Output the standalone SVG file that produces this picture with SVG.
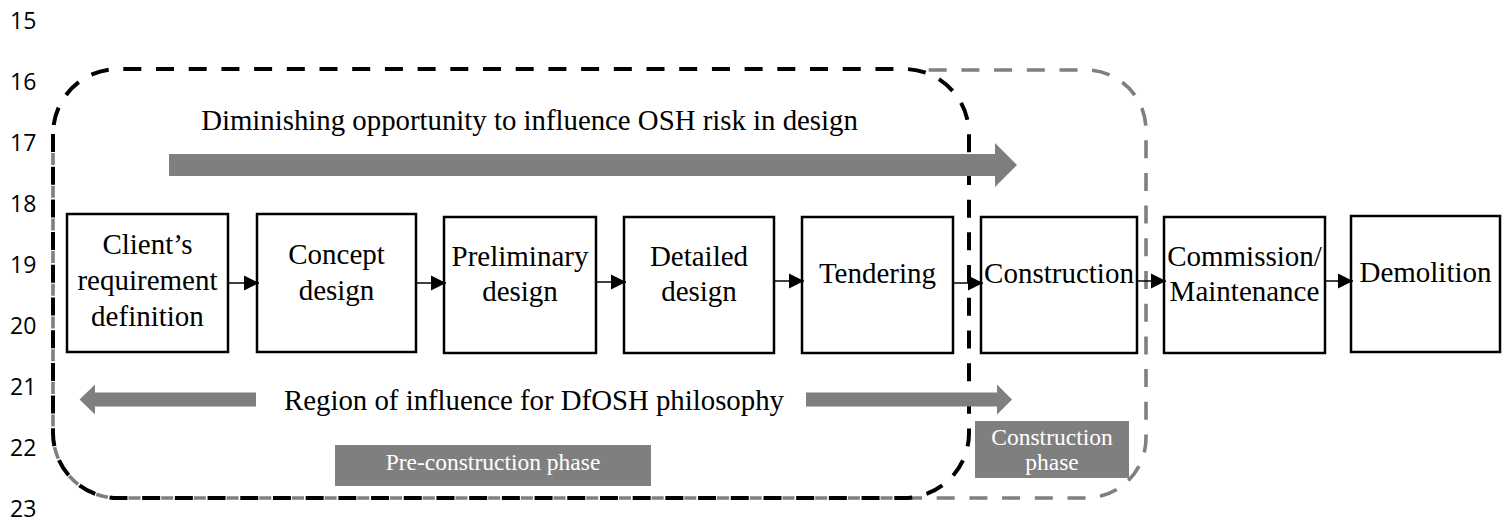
<svg xmlns="http://www.w3.org/2000/svg" width="1502" height="523" viewBox="0 0 1502 523">
  <style>
    .ln { font-family: "Open Sans", "Liberation Sans", sans-serif; font-size: 23px; fill: #000; }
    .box { fill: #fff; stroke: #000; stroke-width: 2.5; }
    .lbl { font-family: 'Liberation Serif', 'DejaVu Serif', serif; font-size: 29px; fill: #000; text-anchor: middle; }
    .big { font-family: 'Liberation Serif', 'DejaVu Serif', serif; font-size: 28.8px; fill: #000; text-anchor: middle; }
    .tag { fill: #7f7f7f; }
    .tagtxt { font-family: 'Liberation Serif', 'DejaVu Serif', serif; font-size: 23.5px; fill: #fff; text-anchor: middle; }
    .flow { stroke: #000; stroke-width: 1.5; fill: none; marker-end: url(#head); }
    .band { fill: #7f7f7f; }
    .blk { fill: none; stroke: #000; stroke-width: 4; stroke-dasharray: 18 14.7; }
    .gry { fill: none; stroke: #7f7f7f; stroke-width: 3.6; stroke-dasharray: 18 14.7; }
    .gryfill { fill: none; stroke: #7f7f7f; stroke-width: 3.6; stroke-dasharray: 12 20.7; stroke-dashoffset: 13.7; }
  </style>
  <defs>
    <marker id="head" markerUnits="userSpaceOnUse" markerWidth="16" markerHeight="16" viewBox="0 0 16 16" refX="15" refY="8" orient="auto">
      <path d="M0,0.5 L15,8 L0,15.5 Z" fill="#000"/>
    </marker>
  </defs>

  <!-- line numbers in the margin -->
  <g id="line-numbers">
    <text class="ln" x="10" y="29">15</text>
    <text class="ln" x="10" y="90">16</text>
    <text class="ln" x="10" y="151">17</text>
    <text class="ln" x="10" y="212">18</text>
    <text class="ln" x="10" y="273">19</text>
    <text class="ln" x="10" y="334">20</text>
    <text class="ln" x="10" y="395">21</text>
    <text class="ln" x="10" y="456">22</text>
    <text class="ln" x="10" y="517">23</text>
  </g>

  <!-- phase labels -->
  <g id="pre-construction-phase">
    <rect class="tag" x="335" y="445" width="316" height="41"/>
    <text class="tagtxt" x="493" y="470">Pre-construction phase</text>
  </g>
  <g id="construction-phase">
    <rect class="tag" x="975" y="421" width="154" height="57"/>
    <text class="tagtxt" x="1052" y="445">Construction</text>
    <text class="tagtxt" x="1052" y="470">phase</text>
  </g>

  <!-- phase boundaries -->
  <g id="boundaries">
    <path id="construction-boundary" class="gry" d="M904,498 H1086 A60,60 0 0 0 1146,438 V130 A60,60 0 0 0 1086,70 H920"/>
    <path id="construction-boundary-shared" class="gryfill" d="M53,134 V433 A65,65 0 0 0 118,498 H904"/>
    <path id="pre-construction-boundary" class="blk" d="M53,134 V433 A65,65 0 0 0 118,498 H904 A65,65 0 0 0 969,433 V134 A65,65 0 0 0 904,69 H118 A65,65 0 0 0 53,134 Z"/>
  </g>

  <!-- process steps -->
  <g id="step-client">
    <rect class="box" x="67" y="214" width="161" height="138"/>
    <text class="lbl" x="147.5" y="254">Client’s</text>
    <text class="lbl" x="147.5" y="290">requirement</text>
    <text class="lbl" x="147.5" y="326">definition</text>
  </g>
  <g id="step-concept">
    <rect class="box" x="257" y="214" width="159" height="138"/>
    <text class="lbl" x="336.5" y="264">Concept</text>
    <text class="lbl" x="336.5" y="300">design</text>
  </g>
  <g id="step-preliminary">
    <rect class="box" x="444" y="217" width="152" height="136"/>
    <text class="lbl" x="520" y="266">Preliminary</text>
    <text class="lbl" x="520" y="301">design</text>
  </g>
  <g id="step-detailed">
    <rect class="box" x="624" y="217" width="150" height="136"/>
    <text class="lbl" x="699" y="266">Detailed</text>
    <text class="lbl" x="699" y="301">design</text>
  </g>
  <g id="step-tendering">
    <rect class="box" x="802" y="217" width="151" height="136"/>
    <text class="lbl" x="877.5" y="283">Tendering</text>
  </g>
  <g id="step-construction">
    <rect class="box" x="981" y="217" width="156" height="136"/>
    <text class="lbl" x="1059" y="283">Construction</text>
  </g>
  <g id="step-commission">
    <rect class="box" x="1164" y="217" width="161" height="136"/>
    <text class="lbl" x="1244.5" y="266">Commission/</text>
    <text class="lbl" x="1244.5" y="301">Maintenance</text>
  </g>
  <g id="step-demolition">
    <rect class="box" x="1351" y="216" width="149" height="136"/>
    <text class="lbl" x="1425.5" y="282">Demolition</text>
  </g>

  <!-- connectors between steps -->
  <g id="connectors">
    <path class="flow" d="M228,283 H259"/>
    <path class="flow" d="M416,283 H446"/>
    <path class="flow" d="M596,282 H626"/>
    <path class="flow" d="M774,281 H804"/>
    <path class="flow" d="M953,283 H983"/>
    <path class="flow" d="M1137,281 H1166"/>
    <path class="flow" d="M1325,281 H1353"/>
  </g>

  <!-- opportunity and influence bands -->
  <g id="opportunity">
    <text class="big" x="529.5" y="130">Diminishing opportunity to influence OSH risk in design</text>
    <path class="band" d="M169,154 H995 V143 L1017,165 L995,187 V176 H169 Z"/>
  </g>
  <g id="influence">
    <path class="band" d="M256,392.5 H95 V384.5 L79.5,399.5 L95,414.5 V406.5 H256 Z"/>
    <text class="big" x="534" y="410">Region of influence for DfOSH philosophy</text>
    <path class="band" d="M806,392.5 H997 V384.5 L1012,399.5 L997,414.5 V406.5 H806 Z"/>
  </g>
</svg>
